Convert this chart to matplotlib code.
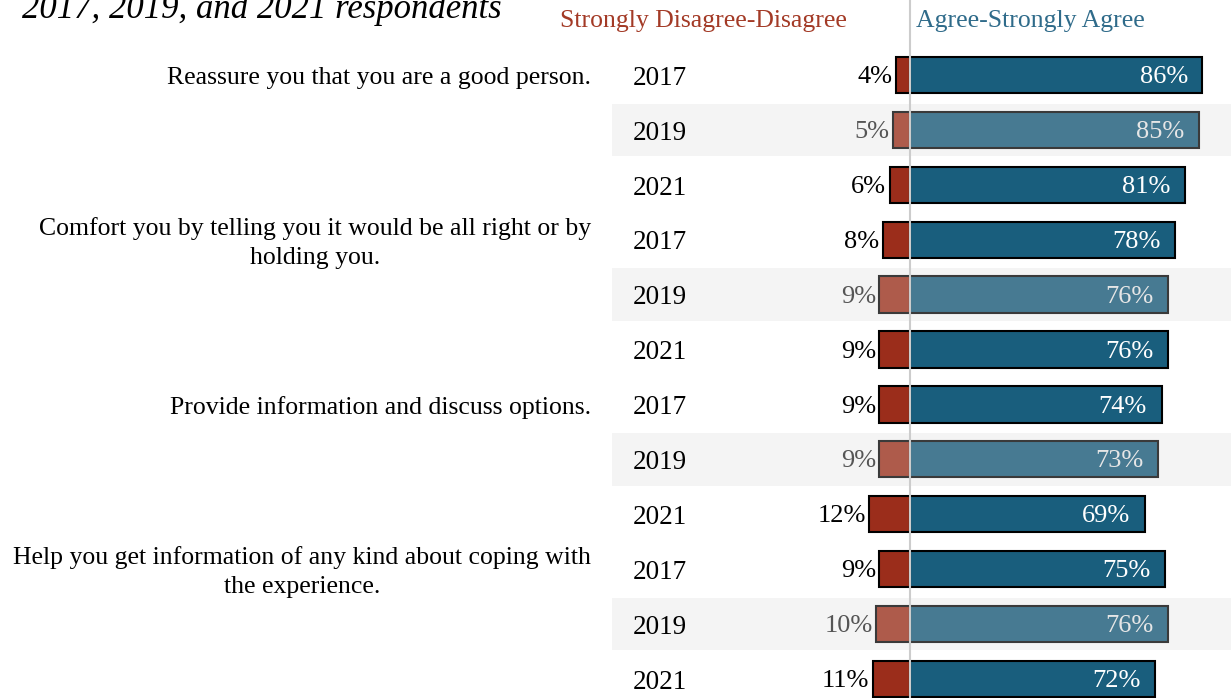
import numpy as np
import matplotlib
matplotlib.use('Agg')
import matplotlib.pyplot as plt

plt.rcParams['font.family'] = ['Liberation Serif', 'DejaVu Serif']

# survey items, one per block of three years
fragen = ['Reassure you that you are a good person.',
          'Comfort you by telling you it would be all right or by\nholding you.',
          'Provide information and discuss options.',
          'Help you get information of any kind about coping with\nthe experience.']
jahre = ['2017', '2019', '2021']
zustimmung = [86, 85, 81, 78, 76, 76, 74, 73, 69, 75, 76, 72]
ablehnung = [4, 5, 6, 8, 9, 9, 9, 9, 12, 9, 10, 11]

rot = '#9b2d1b'
blau = '#195e7d'
rot_hell = '#ae5b4b'
blau_hell = '#477a92'

W, H = 1231, 698
fig = plt.figure(figsize=(W/100, H/100), dpi=100)
ax = fig.add_axes([612/W, 0, 1 - 612/W, 1])

px = 3.4          # pixel pro Prozent
x0 = 910          # Nulllinie in Pixel
ax.set_xlim((612 - x0)/px, (W - x0)/px)
dy = 54.9
ax.set_ylim((H - 75)/dy, -75/dy)
ax.axis('off')

n = len(zustimmung)
h = 0.66
for i in range(n):
    j = i % 3
    hell = (j == 1)
    if hell:
        ax.axhspan(i - 0.48, i + 0.48, color='#f4f4f4', zorder=0, lw=0)
    fr = rot_hell if hell else rot
    fb = blau_hell if hell else blau
    ec = '#3a3a3a' if hell else 'black'
    ax.barh(i, -ablehnung[i], height=h, color=fr, edgecolor=ec, lw=1.5, zorder=2)
    ax.barh(i, zustimmung[i], height=h, color=fb, edgecolor=ec, lw=1.5, zorder=2)
    ax.text(-ablehnung[i] - 1.0, i + 0.04, '%d%%' % ablehnung[i], ha='right', va='center',
            fontsize=19, color='#555555' if hell else 'black', zorder=3)
    ax.text(zustimmung[i] - 4.3, i + 0.04, '%d%%' % zustimmung[i], ha='right', va='center',
            fontsize=19, color='#e6e6e6' if hell else 'white', zorder=3)
    ax.text((633 - x0)/px, i + 0.06, jahre[j], ha='left', va='center', fontsize=19.5, zorder=3)

ax.axvline(0, color='#cccccc', lw=1.5, zorder=4)

for k, f in enumerate(fragen):
    ax.text((591 - x0)/px, 3*k + 0.06, f, ha='right', va='center', multialignment='center',
            fontsize=18.5, linespacing=1.4, clip_on=False)

fig.text(22/W, 1 - 18/H, '2017, 2019, and 2021 respondents', style='italic',
         fontsize=25, ha='left', va='baseline')
fig.text(847/W, 1 - 27/H, 'Strongly Disagree-Disagree', color='#a33a26',
         fontsize=18.5, ha='right', va='baseline')
fig.text(916/W, 1 - 27/H, 'Agree-Strongly Agree', color='#2f6b8a',
         fontsize=18.5, ha='left', va='baseline')

plt.savefig('out.png', dpi=100)
